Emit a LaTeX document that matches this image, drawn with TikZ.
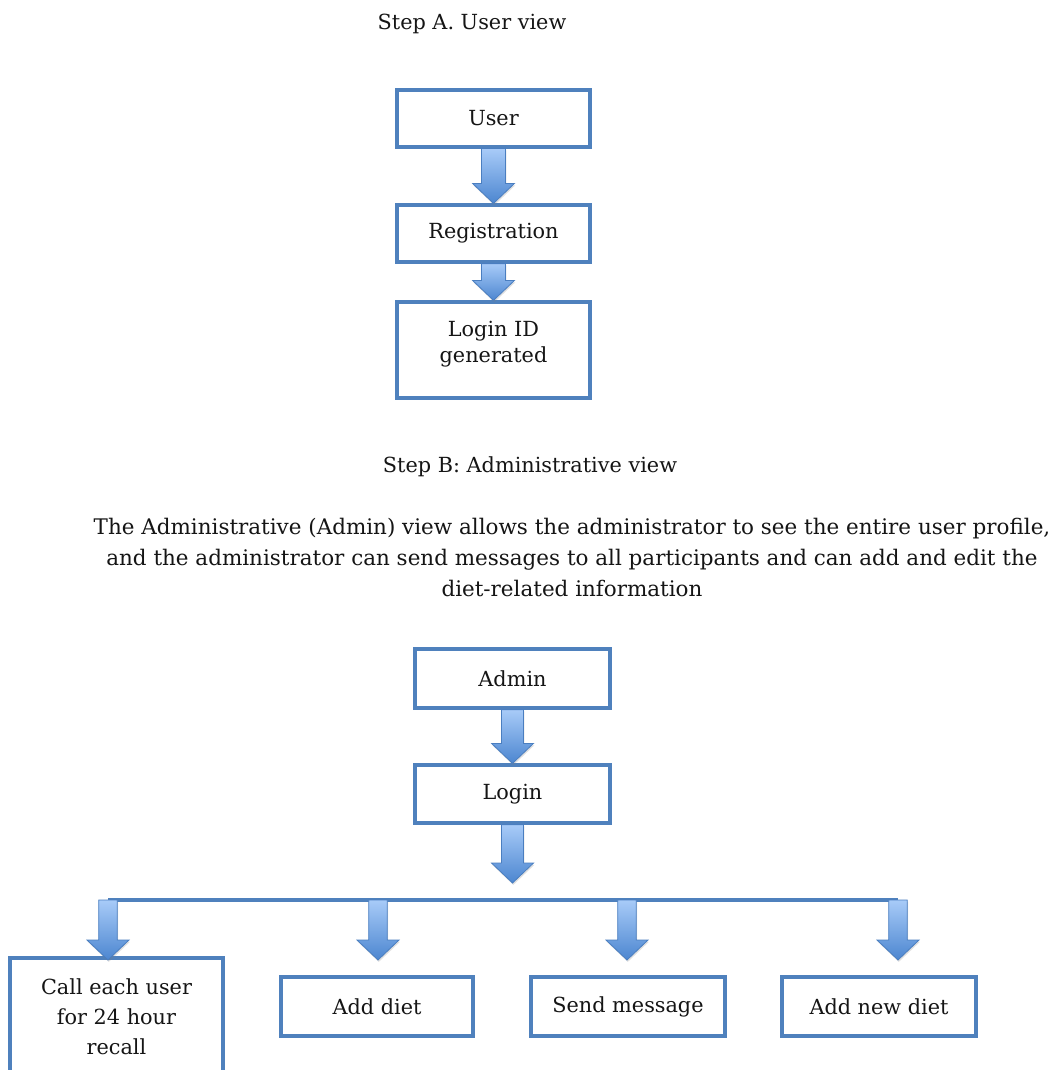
\documentclass[tikz,border=0pt]{standalone}
\usepackage{fontspec}
\setmainfont{DejaVu Serif}
\usetikzlibrary{calc,shadows}

\definecolor{boxblue}{HTML}{4F81BD}
\definecolor{arrowtop}{HTML}{A8CBF8}
\definecolor{arrowbot}{HTML}{4C86D0}
\definecolor{arrowedge}{HTML}{4A7EC0}
\definecolor{inkblack}{HTML}{151515}

\tikzset{
  textfont/.style={text=inkblack, font=\fontsize{15.6}{22.5}\selectfont},
  flowbox/.style={draw=boxblue, line width=2.4pt, fill=white, align=center,
    inner sep=0pt, textfont},
  heading/.style={textfont, inner sep=0pt},
  arrowbody/.style={top color=arrowtop, bottom color=arrowbot,
    draw=arrowedge, line width=0.6pt,
    drop shadow={opacity=0.25, shadow xshift=0.6pt, shadow yshift=-1.4pt}},
  busline/.style={draw=boxblue, line width=2.6pt}
}

% block arrow: optional shaft half width, start point, tip point
\newcommand\flowarrow[3][8.25pt]{%
  \path let \p1=(#2), \p2=(#3) in [arrowbody]
    (\x1-#1,\y1) -- (\x1-#1,\y2+15pt) -- (\x1-15.75pt,\y2+15pt) --
    (\x1,\y2) -- (\x1+15.75pt,\y2+15pt) -- (\x1+#1,\y2+15pt) --
    (\x1+#1,\y1) -- cycle;}

\begin{document}
\begin{tikzpicture}[x=0.75pt, y=-0.75pt]
  \clip (0,0) rectangle (1056,1070);
  \fill[white] (0,0) rectangle (1056,1070);

  % Step A
  \node[heading] (titleA) at (472,24) {Step A. User view};
  \node[flowbox, minimum width=193*0.75pt, minimum height=57*0.75pt]
    (user) at (493.5,118.5) {User};
  \node[flowbox, minimum width=193*0.75pt, minimum height=57*0.75pt]
    (reg) at (493.5,233.5) {Registration};
  \node[flowbox, minimum width=193*0.75pt, minimum height=96*0.75pt,
    font=\fontsize{15.6}{19.5}\selectfont]
    (loginid) at (493.5,350) {Login ID\\generated\vphantom{g}\\[-8pt]};

  \flowarrow[9pt]{user.south}{reg.north}
  \flowarrow[9pt]{reg.south}{loginid.north}

  % Step B
  \node[heading] (titleB) at (530,467) {Step B: Administrative view};
  \node[heading, align=center, font=\fontsize{16.1}{22.9}\selectfont]
    (desc) at (572,557.5)
    {The Administrative (Admin) view allows the administrator to see the entire user profile,\\
     and the administrator can send messages to all participants and can add and edit the\\
     diet-related information};

  \node[flowbox, minimum width=195*0.75pt, minimum height=59*0.75pt]
    (admin) at (512.5,678.5) {Admin};
  \node[flowbox, minimum width=195*0.75pt, minimum height=58*0.75pt]
    (login) at (512.5,794) {Login};

  \coordinate (hub) at (512.5,883);
  \flowarrow[8.25pt]{admin.south}{login.north}
  \flowarrow[8.25pt]{login.south}{hub}

  % branch points on the bus and arrow tips
  \coordinate (b1) at (108,900);
  \coordinate (b2) at (378,900);
  \coordinate (b3) at (627,900);
  \coordinate (b4) at (898,900);
  \coordinate (t1) at (108,960);
  \coordinate (t2) at (378,960);
  \coordinate (t3) at (627,960);
  \coordinate (t4) at (898,960);

  \path[busline, drop shadow={opacity=0.2, shadow xshift=0pt, shadow yshift=-1.2pt}]
    (b1) -- (b4);

  \node[flowbox, minimum width=213*0.75pt, minimum height=118*0.75pt]
    (call) at (116.5,1017) {Call each user\\for 24 hour\\recall};
  \node[flowbox, minimum width=192*0.75pt, minimum height=59*0.75pt]
    (adddiet) at (377,1006.5) {Add diet};
  \node[flowbox, minimum width=194*0.75pt, minimum height=59*0.75pt]
    (send) at (628,1006.5) {Send message};
  \node[flowbox, minimum width=194*0.75pt, minimum height=59*0.75pt]
    (newdiet) at (879,1006.5) {Add new diet};

  \flowarrow[7pt]{b1}{t1}
  \flowarrow[7pt]{b2}{t2}
  \flowarrow[7pt]{b3}{t3}
  \flowarrow[7pt]{b4}{t4}
\end{tikzpicture}
\end{document}
